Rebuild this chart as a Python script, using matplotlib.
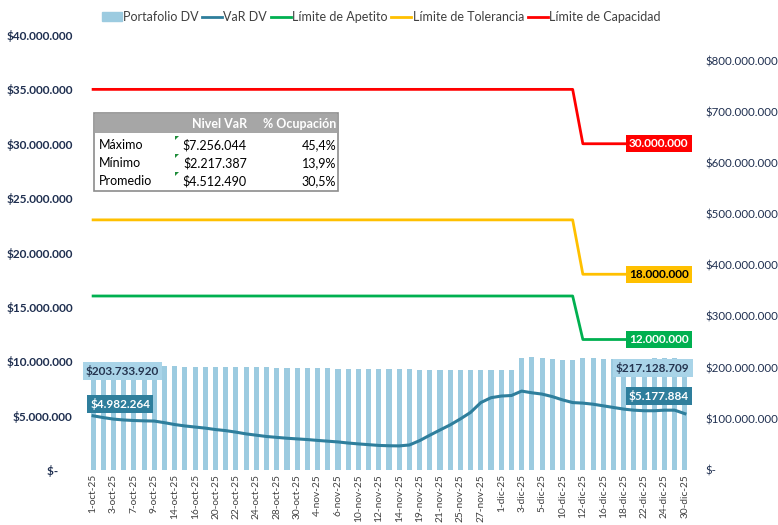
import matplotlib
matplotlib.use('Agg')
import matplotlib.pyplot as plt
import matplotlib.patches as mpatches
from matplotlib.lines import Line2D
from matplotlib.ticker import FuncFormatter
import numpy as np

plt.rcParams['font.family'] = ['Lato', 'DejaVu Sans']

# fechas (dias habiles oct-dic 2025)
fechas = ['1-oct-25', '2-oct-25', '3-oct-25', '6-oct-25', '7-oct-25', '8-oct-25', '9-oct-25', '10-oct-25',
          '14-oct-25', '15-oct-25', '16-oct-25', '17-oct-25', '20-oct-25', '21-oct-25', '22-oct-25', '23-oct-25',
          '24-oct-25', '27-oct-25', '28-oct-25', '29-oct-25', '30-oct-25', '31-oct-25',
          '4-nov-25', '5-nov-25', '6-nov-25', '7-nov-25', '10-nov-25', '11-nov-25', '12-nov-25', '13-nov-25',
          '14-nov-25', '18-nov-25', '19-nov-25', '20-nov-25', '21-nov-25', '24-nov-25', '25-nov-25', '26-nov-25',
          '27-nov-25', '28-nov-25',
          '1-dic-25', '2-dic-25', '3-dic-25', '4-dic-25', '5-dic-25', '9-dic-25', '10-dic-25', '11-dic-25',
          '12-dic-25', '15-dic-25', '16-dic-25', '17-dic-25', '18-dic-25', '19-dic-25', '22-dic-25', '23-dic-25',
          '24-dic-25', '29-dic-25', '30-dic-25']

# portafolio (millones)
portafolio = [203.73, 203.5, 203.2, 203.0, 203.3, 203.6, 203.1, 202.8, 202.4, 202.2, 202.0, 201.8, 201.5, 201.3,
              201.0, 200.8, 200.5, 200.3, 200.0, 199.8, 199.5, 199.2, 198.9, 198.6, 198.3, 198.0, 197.8, 197.5,
              197.2, 197.0, 196.7, 196.4, 196.1, 195.8, 195.5, 195.2, 195.0, 194.8, 195.0, 195.3,
              196.0, 196.2, 219.0, 220.0, 219.0, 216.5, 215.5, 215.5, 218.0, 218.0, 216.5, 216.0, 216.0, 216.5,
              217.0, 218.0, 218.5, 218.0, 217.13]

# VaR (millones)
var_dv = [4.982, 4.82, 4.68, 4.60, 4.55, 4.52, 4.50, 4.35, 4.18, 4.05, 3.95, 3.85, 3.72, 3.62, 3.48, 3.32,
          3.20, 3.08, 3.00, 2.92, 2.86, 2.80, 2.72, 2.65, 2.58, 2.48, 2.40, 2.33, 2.26, 2.23, 2.217, 2.30,
          2.70, 3.20, 3.68, 4.15, 4.70, 5.30, 6.20, 6.65, 6.80, 6.85, 7.256, 7.10, 6.98, 6.75, 6.45, 6.20,
          6.15, 6.05, 5.90, 5.75, 5.60, 5.50, 5.45, 5.45, 5.50, 5.50, 5.178]

lim_apetito = [16] * 48 + [12] * 11
lim_tolerancia = [23] * 48 + [18] * 11
lim_capacidad = [35] * 48 + [30] * 11

tabla_filas = ['Máximo', 'Mínimo', 'Promedio']
tabla_var = ['$7.256.044', '$2.217.387', '$4.512.490']
tabla_ocup = ['45,4%', '13,9%', '30,5%']

azul_barra = '#9CCBE0'
teal = '#2E7E9C'
verde = '#00B050'
amarillo = '#FFC000'
rojo = '#FF0000'
navy = '#1F2F50'

W, H = 778, 525
fig = plt.figure(figsize=(W / 100, H / 100), dpi=100)
ax = fig.add_axes([88 / W, 1 - 470 / H, (690 - 88) / W, (470 - 35) / H])
ax2 = ax.twinx()
ax.set_zorder(ax2.get_zorder() + 1)
ax.patch.set_visible(False)

x = np.arange(len(fechas))
ax2.bar(x, np.array(portafolio) * 1e6, width=0.5, color=azul_barra)
ax.plot(x, np.array(var_dv) * 1e6, color=teal, lw=2.2)
ax.plot(x, np.array(lim_apetito) * 1e6, color=verde, lw=2)
ax.plot(x, np.array(lim_tolerancia) * 1e6, color=amarillo, lw=2)
ax.plot(x, np.array(lim_capacidad) * 1e6, color=rojo, lw=2)


def pesos(v, pos):
    if v == 0:
        return '$-     '
    return '$' + f'{v:,.0f}'.replace(',', '.')


ax.set_xlim(-0.5, len(fechas) - 0.5)
ax.set_ylim(0, 40e6)
ax.set_yticks(np.arange(0, 40e6 + 1, 5e6))
ax.yaxis.set_major_formatter(FuncFormatter(pesos))
ax2.set_ylim(0, 850e6)
ax2.set_yticks(np.arange(0, 800e6 + 1, 100e6))
ax2.yaxis.set_major_formatter(FuncFormatter(lambda v, p: '$-' if v == 0 else '$' + f'{v:,.0f}'.replace(',', '.')))

ax.set_xticks(x[::2])
ax.set_xticklabels(fechas[::2], rotation=90, fontsize=7.3, color='#404040')
ax.tick_params(axis='x', length=0, pad=3)
ax.tick_params(axis='y', length=0, pad=11, labelsize=8.5, labelcolor=navy)
ax2.tick_params(axis='y', length=0, pad=11, labelsize=8.3, labelcolor=navy)
for lab in ax.get_yticklabels():
    lab.set_fontweight('bold')
for a in (ax, ax2):
    for s in a.spines.values():
        s.set_visible(False)

# etiquetas de datos
n = len(fechas) - 1
k = 0.72  # px -> pt


def etiqueta(xv, yv, txt, dx, dy, fc, tc):
    ax.annotate(txt, (xv, yv), xytext=(dx * k, dy * k), textcoords='offset points', ha='center', va='center',
                fontsize=8.5, fontweight='bold', color=tc,
                bbox=dict(boxstyle='square,pad=0.25', fc=fc, ec='none'), zorder=10)


etiqueta(n, lim_capacidad[-1] * 1e6, '30.000.000', -26, 0, rojo, 'white')
etiqueta(n, lim_tolerancia[-1] * 1e6, '18.000.000', -26, 0, amarillo, 'black')
etiqueta(n, lim_apetito[-1] * 1e6, '12.000.000', -26, 0, verde, 'white')
etiqueta(0, var_dv[0] * 1e6, '$4.982.264', 27, 12, teal, 'white')
etiqueta(n, var_dv[-1] * 1e6, '$5.177.884', -26, 18, teal, 'white')
y0 = portafolio[0] * 1e6 / 850e6 * 40e6
yn = portafolio[-1] * 1e6 / 850e6 * 40e6
etiqueta(0, y0, '$203.733.920', 29, -5, '#A9D4E8', '#253550')
etiqueta(n, yn, '$217.128.709', -32, -9, '#A9D4E8', '#253550')

# tabla resumen
def fx(px):
    return px / W


def fy(py):
    return 1 - py / H


tb = fig.transFigure
fig.add_artist(mpatches.Rectangle((fx(94), fy(191)), fx(338) - fx(94), fy(113) - fy(191), transform=tb,
                                  fc='white', ec='#8C8C8C', lw=1.2, zorder=20))
fig.add_artist(mpatches.Rectangle((fx(95), fy(133)), fx(337) - fx(95), fy(114) - fy(133), transform=tb,
                                  fc='#A6A6A6', ec='none', zorder=21))
fig.text(fx(247), fy(124), 'Nivel VaR', ha='right', va='center', color='white', fontweight='bold',
         fontsize=9, zorder=22)
fig.text(fx(336), fy(124), '% Ocupación', ha='right', va='center', color='white', fontweight='bold',
         fontsize=9, zorder=22)
for i, (fila, v, o) in enumerate(zip(tabla_filas, tabla_var, tabla_ocup)):
    yy = fy(145 + i * 18)
    fig.text(fx(99), yy, fila, ha='left', va='center', fontsize=9, color='black', zorder=22)
    fig.text(fx(247), yy, v, ha='right', va='center', fontsize=9, color='black', zorder=22)
    fig.text(fx(336), yy, o, ha='right', va='center', fontsize=9, color='black', zorder=22)
    fig.add_artist(mpatches.Polygon([(fx(175), fy(136 + i * 18)), (fx(179), fy(136 + i * 18)),
                                     (fx(175), fy(140 + i * 18))], closed=True, transform=tb,
                                    fc='#1E8C3A', ec='none', zorder=22))

# leyenda
handles = [mpatches.Patch(color=azul_barra, label='Portafolio DV'),
           Line2D([], [], color=teal, lw=2, label='VaR DV'),
           Line2D([], [], color=verde, lw=2, label='Límite de Apetito'),
           Line2D([], [], color=amarillo, lw=2, label='Límite de Tolerancia'),
           Line2D([], [], color=rojo, lw=2, label='Límite de Capacidad')]
fig.legend(handles=handles, loc='center', bbox_to_anchor=(fx(381), fy(17)), ncol=5, frameon=False,
           fontsize=9, handlelength=1.6, handletextpad=0.1, columnspacing=0.3, labelcolor='#404040')

fig.savefig('out.png', dpi=100)
